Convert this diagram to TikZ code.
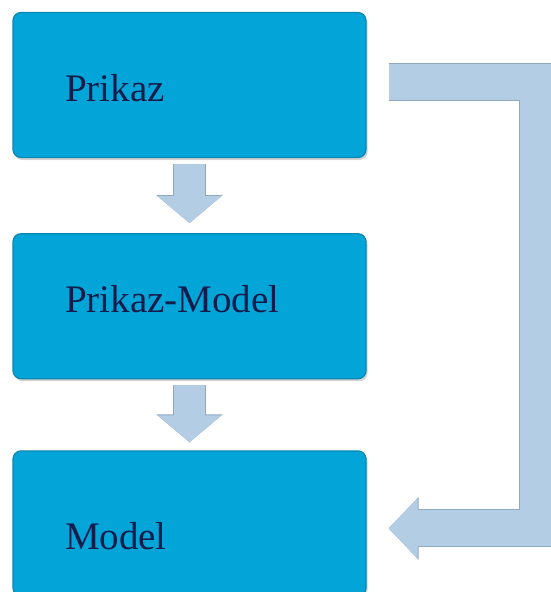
\documentclass[tikz,border=0pt]{standalone}
\usepackage{fontspec}
\setmainfont{Liberation Serif}
\usetikzlibrary{arrows.meta}
\usetikzlibrary{positioning}
\usetikzlibrary{shadows}

\definecolor{boxblue}{HTML}{03A4D8}
\definecolor{boxedge}{HTML}{0A87B3}
\definecolor{textnavy}{HTML}{121D4C}
\definecolor{arrowblue}{HTML}{B2CDE4}
\definecolor{arrowedge}{HTML}{8EA9C2}

\tikzset{
	stage/.style={rectangle, rounded corners=8pt, fill=boxblue, draw=boxedge, line width=1.2pt,
		drop shadow={opacity=0.35, shadow xshift=1.5pt, shadow yshift=-2.5pt},
		minimum width=353pt, minimum height=145pt, text width=249pt, inner xsep=52pt,
		align=left, text=textnavy, font=\fontsize{39}{42}\selectfont},
	smallarrow/.style={line width=31pt, draw=arrowblue, -{Triangle[width=62pt, length=27pt]},
		preaction={draw=arrowedge, line width=33pt, -{Triangle[width=65pt, length=28pt]}}},
	bigarrow/.style={line width=36pt, draw=arrowblue, line join=miter,
		-{Triangle[width=58pt, length=29pt]},
		preaction={draw=arrowedge, line width=38pt, line join=miter, -{Triangle[width=61pt, length=30pt]}}}
}

\begin{document}
\begin{tikzpicture}[x=1pt,y=-1pt]
	\useasboundingbox (0,0) rectangle (550,592);

	% stages
	\node[stage, text height=33pt] (prikaz) at (189.5,85) {Prikaz};
	\node[stage, text depth=14pt, below=75pt of prikaz] (prikazmodel) {Prikaz-Model};
	\node[stage, text height=52pt, below=71pt of prikazmodel] (model) {Model};

	% small arrows between stages
	\draw[smallarrow] ([yshift=-6pt]prikaz.south) -- ([yshift=10pt]prikazmodel.north);
	\draw[smallarrow] ([yshift=-6pt]prikazmodel.south) -- ([yshift=8pt]model.north);

	% return arrow on the right
	\coordinate (bend) at (538,300);
	\draw[bigarrow] ([xshift=22pt,yshift=3pt]prikaz.east) -| (bend) |- ([xshift=22pt,yshift=-5pt]model.east);

\end{tikzpicture}
\end{document}
